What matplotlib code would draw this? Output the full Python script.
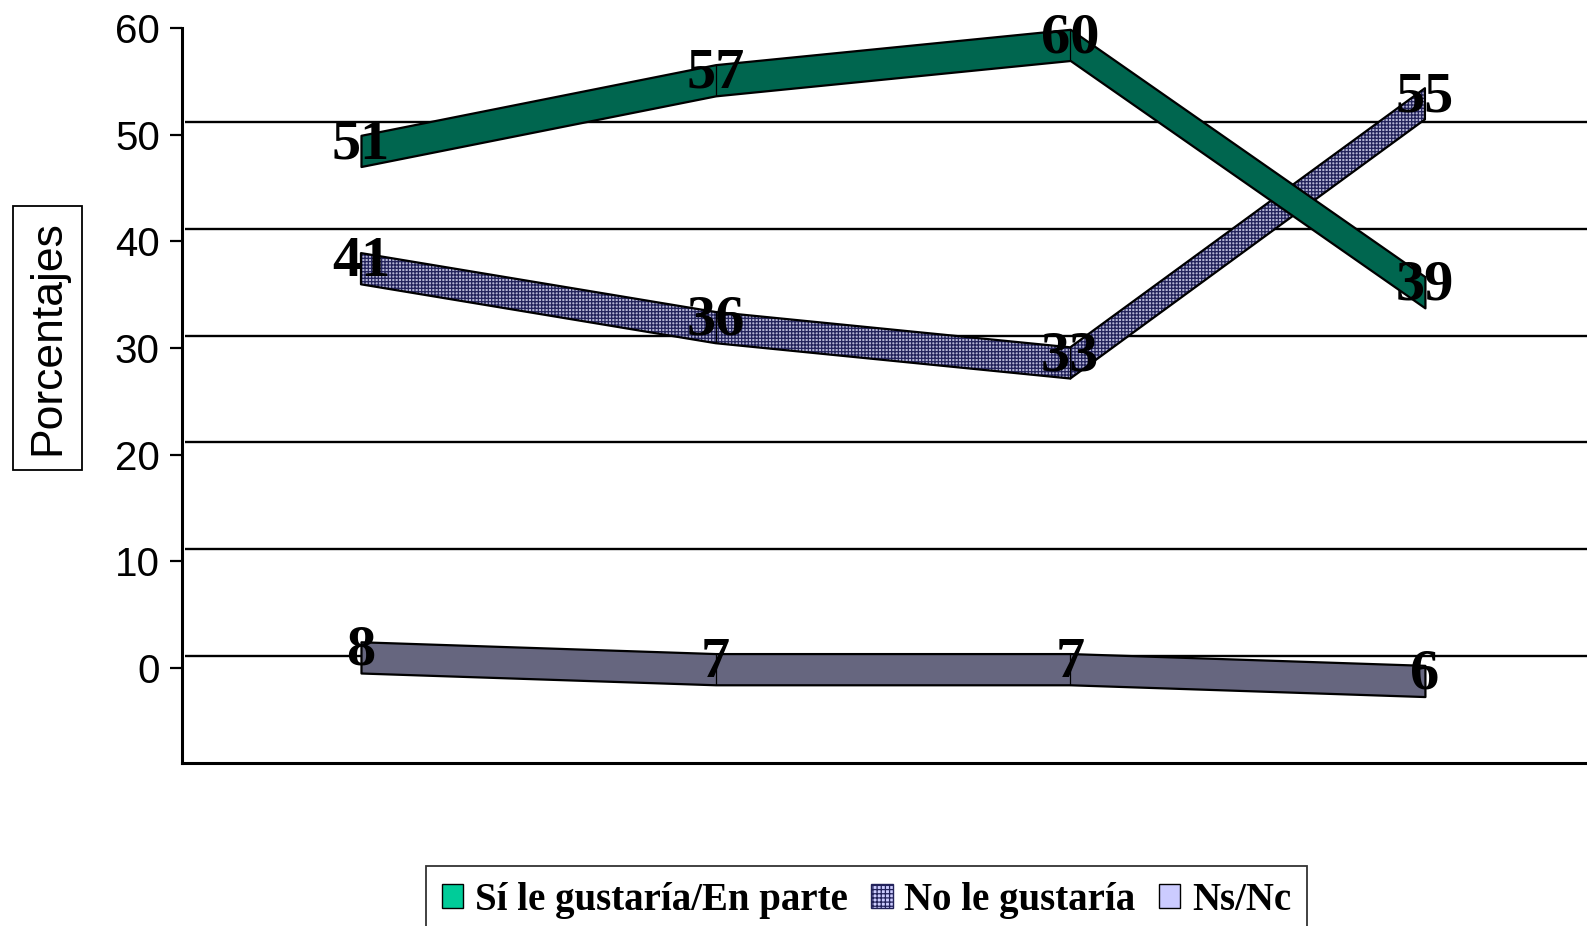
import numpy as np
import matplotlib.pyplot as plt
from matplotlib.patches import Patch

# valores (porcentajes)
si = [51, 57, 60, 39]
no = [41, 36, 33, 55]
nsnc = [8, 7, 7, 6]
nombres = ['Sí le gustaría/En parte', 'No le gustaría', 'Ns/Nc']
yticks = [0, 10, 20, 30, 40, 50, 60]

verde = '#00664F'
verde_leyenda = '#00CC99'
lila = '#CCCCFF'
lila_osc = '#B4B4D4'
azul = '#22225A'
gris = '#66667F'

plt.rcParams['hatch.color'] = azul
plt.rcParams['hatch.linewidth'] = 0.9

fig = plt.figure(figsize=(15.87, 9.26), dpi=100)
W, H = 1587, 926
ax = fig.add_axes([182 / W, 1 - 763 / H, 1405 / W, 735 / H])
x = np.arange(len(si))
ax.set_xlim(-0.5047, 3.457)
ax.set_ylim(-8.906, 60)

for s in ['top', 'right']:
    ax.spines[s].set_visible(False)
ax.spines['left'].set_linewidth(2.2)
ax.spines['bottom'].set_linewidth(2.2)
ax.set_xticks([])
ax.set_yticks(yticks)
ax.set_yticklabels([str(t) for t in yticks], fontfamily='Liberation Sans', fontsize=29)
ax.tick_params(axis='y', direction='out', length=9, width=1.6, pad=7)

# lineas de division en la pared del fondo (desplazadas hacia arriba)
desp = 12.5 / 10.667
ax.hlines([t + desp for t in yticks[:-1]], -0.495, 3.457, color='black', lw=1.7, zorder=1)

# cintas 3D en un eje gemelo con su propia escala
ax2 = ax.twinx()
ax2.set_ylim(0.36, 62.76)
ax2.axis('off')
grosor = 2.65

def cinta(vals, color, hatch=None, z=2):
    vals = np.array(vals, dtype=float)
    if hatch:
        ax2.fill_between(x, vals, vals + grosor, facecolor=color, edgecolor=azul,
                         hatch=hatch, lw=0, zorder=z)
        ax2.fill_between(x, vals, vals + grosor, facecolor='none', edgecolor='black',
                         lw=1.6, zorder=z)
    else:
        ax2.fill_between(x, vals, vals + grosor, facecolor=color, edgecolor='black',
                         lw=1.6, zorder=z)
    ax2.vlines(x[1:-1], vals[1:-1], vals[1:-1] + grosor, color='black', lw=0.9, zorder=z)

cinta(nsnc, gris, z=2)
cinta(no, lila_osc, hatch='+++++', z=3)
cinta(si, verde, z=4)

for serie in [si, no, nsnc]:
    for xi, v in zip(x, serie):
        ax2.text(xi, v + 0.7, str(v), ha='center', va='baseline', fontsize=42,
                 fontweight='bold', family='Liberation Serif', zorder=10)

fig.text(47.5 / W, 1 - 338 / H, 'Porcentajes', rotation=90, ha='center', va='center',
         fontsize=32, family='Liberation Sans',
         bbox=dict(boxstyle='square,pad=0.32', facecolor='white', edgecolor='black', lw=1.3))

handles = [Patch(facecolor=verde_leyenda, edgecolor='black'),
           Patch(facecolor=lila, edgecolor=azul, hatch='++++'),
           Patch(facecolor=lila, edgecolor='black')]
fig.legend(handles, nombres, loc='upper center', bbox_to_anchor=(866.5 / W, 1 - 866 / H),
           ncol=3, frameon=True, fancybox=False, edgecolor='black', borderaxespad=0,
           prop={'family': 'Liberation Serif', 'weight': 'bold', 'size': 28},
           handlelength=0.55, handleheight=0.55, handletextpad=0.3, columnspacing=0.6,
           borderpad=0.4)
fig.legends[0].get_frame().set_linewidth(1.3)

fig.savefig('out.png', dpi=100)
